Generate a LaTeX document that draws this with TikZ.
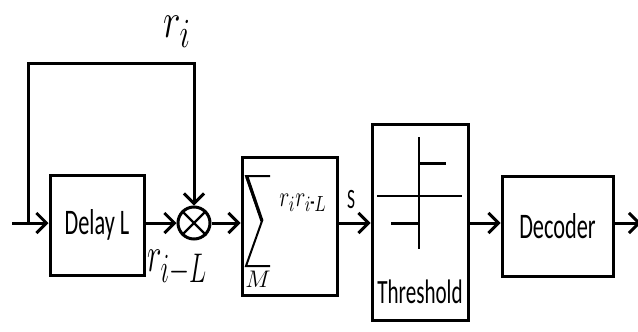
\documentclass[tikz,border=0pt]{standalone}
\usepackage{fontspec}
\setmainfont{Carlito}[FakeStretch=0.62]
\usepackage{graphicx}
\usetikzlibrary{arrows.meta,positioning}

\tikzset{
	block/.style={draw, line width=1.5pt, rectangle, inner sep=0pt, font=\fontsize{18}{20}\selectfont},
	sig/.style={line width=1.5pt, -{Straight Barb[length=5pt,width=10pt,line width=1.5pt]}},
	mlabel/.style={inner sep=0pt, font=\fontsize{23}{25}\selectfont}
}

\begin{document}
\begin{tikzpicture}[x=0.5pt, y=-0.5pt]
		\useasboundingbox (0, 0) rectangle (638, 332);
		
		% blocks
		\node [block, minimum width=47pt, minimum height=50pt] (delay) at (97, 225) {Delay L};
		\node [draw, circle, line width=1.5pt, minimum size=16pt, inner sep=0pt] (mult) at (194, 223) {};
		\draw [line width=1.2pt] (mult.north east) -- (mult.south west);
		\draw [line width=1.2pt] (mult.north west) -- (mult.south east);
		\node [block, minimum width=47.5pt, minimum height=69pt] (sumbox) at (289.5, 226) {};
		\node [block, minimum width=48pt, minimum height=98pt] (thr) at (420, 222) {};
		\node [block, minimum width=55.5pt, minimum height=50pt] (dec) at (557.5, 226) {Decoder};
		
		% contents of the sum block
		\draw [line width=1pt] (270, 176) -- (246, 176) -- (262, 221) -- (246, 266) -- (270, 266);
		\draw [line width=1.6pt] (247, 177) -- (262, 221);
		\node [inner sep=0pt, font=\fontsize{12}{13}\selectfont] (mm) at (258, 279) {$M$};
		\node [inner sep=0pt, font=\fontsize{15}{16}\selectfont] (prod) at (303, 203) {\scalebox{0.75}[1]{$r_i r_{i\mbox{-}L}$}};
		
		% contents of the threshold block
		\draw [line width=1pt] (419, 137) -- (419, 249);
		\draw [line width=1pt] (377, 196) -- (462, 196);
		\draw [line width=1.5pt] (419, 163) -- (446, 163);
		\draw [line width=1.5pt] (391, 223) -- (419, 223);
		\node [inner sep=0pt, font=\fontsize{17}{19}\selectfont] (thrtext) at (420, 292) {Threshold};
		
		% signal path
		\coordinate (in) at (12, 223);
		\coordinate (split) at (28, 223);
		\coordinate (top) at (28, 63);
		\coordinate (out) at (641, 223);
		
		\draw [sig] (in) -- (delay.west |- in);
		\draw [sig] (split) -- (top) -| (mult.north);
		\draw [sig] (delay.east |- mult) -- (mult.west);
		\draw [sig] (mult.east) -- (sumbox.west |- mult);
		\draw [sig] (sumbox.east |- mult) -- (thr.west |- mult);
		\draw [sig] (thr.east |- mult) -- (dec.west |- mult);
		\draw [sig] (dec.east |- mult) -- (out);
		
		% labels
		\node [mlabel] (ri) at (177, 32) {\scalebox{0.75}[1]{$r_{\scalebox{1.2}{$\scriptstyle i$}}$}};
		\node [mlabel] (rl) at (177, 268) {\scalebox{0.62}[1]{$r_{\scalebox{1.2}{$\scriptstyle i-L$}}$}};
		\node [inner sep=0pt, font=\fontsize{14}{16}\selectfont] (ss) at (351, 200) {S};
		
\end{tikzpicture}
\end{document}
